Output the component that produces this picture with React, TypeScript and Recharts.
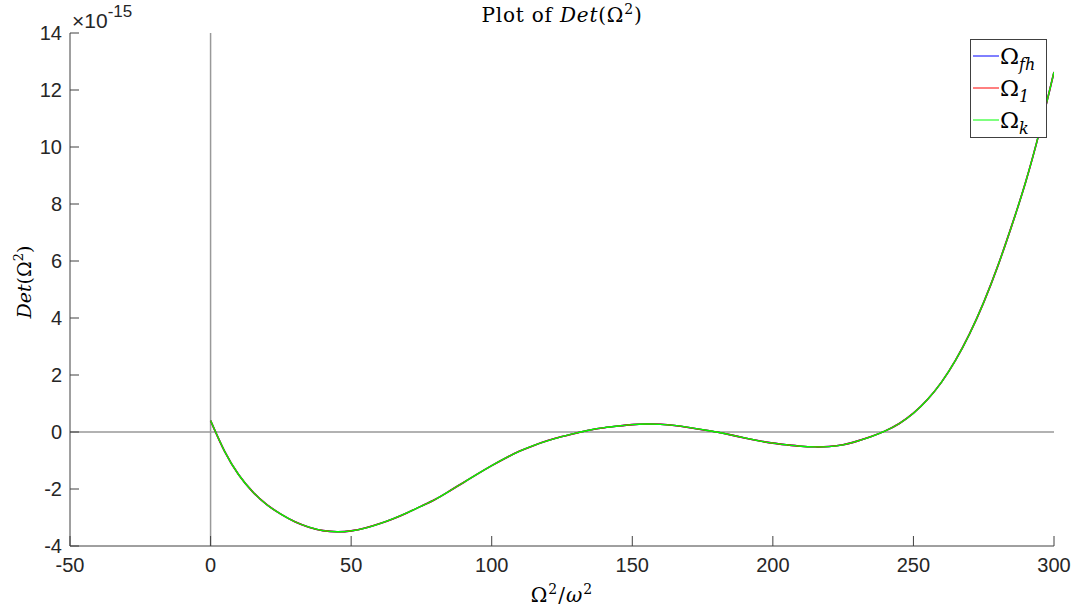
import { LineChart, Line, XAxis, YAxis, ReferenceLine, Legend } from 'recharts'

// Omega^2 / omega^2 sample points
const omegaSq = [
  0, 5, 10, 15, 20, 25, 30, 35, 40, 45, 50, 55, 60, 65, 70, 75, 80, 85, 90, 95, 100,
  105, 110, 115, 120, 125, 130, 135, 140, 145, 150, 155, 160, 165, 170, 175, 180, 185,
  190, 195, 200, 205, 210, 215, 220, 225, 230, 235, 240, 245, 250, 255, 260, 265, 270,
  275, 280, 285, 290, 295, 300,
]

// Det(Omega^2), in units of 1e-15
const detValues = [
  0.4, -0.68, -1.5, -2.1, -2.55, -2.88, -3.15, -3.34, -3.46, -3.5, -3.47, -3.37, -3.22,
  -3.04, -2.83, -2.6, -2.36, -2.07, -1.77, -1.47, -1.18, -0.91, -0.67, -0.47, -0.3,
  -0.16, -0.04, 0.07, 0.15, 0.21, 0.26, 0.28, 0.27, 0.23, 0.16, 0.08, 0.0, -0.1, -0.21,
  -0.31, -0.39, -0.45, -0.5, -0.52, -0.51, -0.45, -0.32, -0.16, 0.04, 0.3, 0.66, 1.14,
  1.75, 2.52, 3.45, 4.55, 5.82, 7.25, 8.8, 10.6, 12.63,
]

const xTicks = [-50, 0, 50, 100, 150, 200, 250, 300]
const yTicks = [-4, -2, 0, 2, 4, 6, 8, 10, 12, 14]

const series = [
  { key: 'fh', sub: 'fh', color: '#0000ff' },
  { key: 'one', sub: '1', color: '#ff0000' },
  { key: 'k', sub: 'k', color: '#00ff00' },
]

const data = omegaSq.map((x, i) => ({
  x,
  fh: detValues[i],
  one: detValues[i],
  k: detValues[i],
}))

const axisColor = '#404040'
const textColor = '#262626'
const sans = '"Liberation Sans", Arial, sans-serif'
const serif = '"DejaVu Serif", "Liberation Serif", serif'

function LegendBox() {
  return (
    <svg width={78} height={100} style={{ display: 'block' }}>
      <rect x={0.5} y={0.5} width={76} height={98} fill="#fff" stroke={axisColor} strokeWidth={1} />
      {series.map((s, i) => {
        const cy = 17 + i * 32
        return (
          <g key={s.key}>
            <line x1={3} x2={29} y1={cy} y2={cy} stroke={s.color} strokeWidth={1} />
            <text x={30} y={cy + 8} fontFamily={serif} fontSize={23} fill="#000">
              Ω
              <tspan fontSize={16} fontStyle="italic" dy={6}>{s.sub}</tspan>
            </text>
          </g>
        )
      })}
    </svg>
  )
}

export default function App() {
  return (
    <div style={{ position: 'absolute', left: 0, top: 0, width: 1079, height: 612, background: '#fff' }}>
      <LineChart
        width={1079}
        height={612}
        data={data}
        margin={{ top: 33, right: 25, bottom: 0, left: 0 }}
      >
        <XAxis
          dataKey="x"
          type="number"
          domain={[-50, 300]}
          ticks={xTicks}
          height={66}
          tickSize={-10}
          tickMargin={22}
          stroke={axisColor}
          tick={{ fill: textColor, fontSize: 20, fontFamily: sans }}
          allowDataOverflow
        />
        <YAxis
          type="number"
          domain={[-4, 14]}
          ticks={yTicks}
          width={70}
          tickSize={-9}
          tickMargin={17}
          stroke={axisColor}
          tick={{ fill: textColor, fontSize: 20, fontFamily: sans }}
          allowDataOverflow
        />
        <ReferenceLine x={0} stroke="#999999" strokeWidth={1.5} />
        <ReferenceLine y={0} stroke="#999999" strokeWidth={1.5} />
        {series.map((s, i) => (
          <Line
            key={s.key}
            type="natural"
            dataKey={s.key}
            stroke={s.color}
            strokeWidth={i === 2 ? 1.3 : 1.6}
            dot={false}
            activeDot={false}
            isAnimationActive={false}
          />
        ))}
        <Legend
          layout="vertical"
          align="center"
          verticalAlign="middle"
          content={() => <LegendBox />}
          wrapperStyle={{ position: 'absolute', left: 970, top: 39, width: 78, height: 100 }}
        />
      </LineChart>
      <svg
        width={1079}
        height={612}
        style={{ position: 'absolute', left: 0, top: 0, pointerEvents: 'none' }}
      >
        <text x={562} y={22} textAnchor="middle" fontFamily={serif} fontSize={20} letterSpacing={0.8} fill="#000">
          Plot of <tspan fontStyle="italic">Det</tspan>(Ω
          <tspan fontSize={14} dy={-8}>2</tspan>
          <tspan dy={8}>)</tspan>
        </text>
        <text x={72} y={28} fontFamily={sans} fontSize={21} fill={textColor}>
          ×10<tspan fontSize={17} dy={-11}>-15</tspan>
        </text>
        <text x={562} y={602} textAnchor="middle" fontFamily={serif} fontSize={20} letterSpacing={1} fill="#000">
          Ω<tspan fontSize={14} dy={-8}>2</tspan>
          <tspan dy={8}>/</tspan>
          <tspan fontStyle="italic">ω</tspan>
          <tspan fontSize={14} dy={-8}>2</tspan>
        </text>
        <text
          x={0}
          y={0}
          transform="translate(31 282) rotate(-90)"
          textAnchor="middle"
          fontFamily={serif}
          fontSize={19}
          fill="#000"
        >
          <tspan fontStyle="italic">Det</tspan>(Ω
          <tspan fontSize={13} dy={-8}>2</tspan>
          <tspan dy={8}>)</tspan>
        </text>
      </svg>
    </div>
  )
}
